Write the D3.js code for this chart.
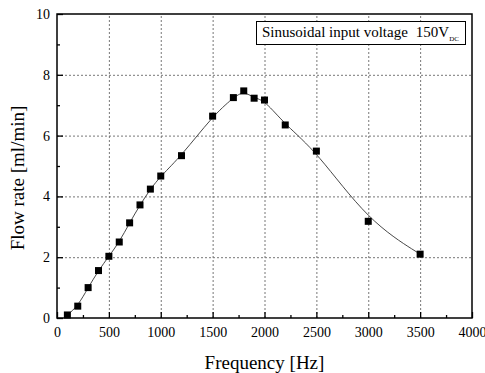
<!DOCTYPE html>
<html><head><meta charset="utf-8">
<script src="https://cdn.jsdelivr.net/npm/d3@7"></script>
<style>body{margin:0;background:#fff}svg{display:block}svg text{font-family:'Liberation Serif',serif !important}</style>
</head><body><div id="c"></div>
<script>
const freq = [100,200,300,400,500,600,700,800,900,1000,1200,1500,1700,1800,1900,2000,2200,2500,3000,3500];
const flow = [0.1,0.39,1.0,1.56,2.03,2.5,3.13,3.72,4.24,4.67,5.34,6.64,7.25,7.47,7.23,7.17,6.35,5.49,3.18,2.1];
const xTicks = [0,500,1000,1500,2000,2500,3000,3500,4000];
const yTicks = [0,2,4,6,8,10];
const xTitle = "Frequency [Hz]";
const yTitle = "Flow rate [ml/min]";
const legendText = "Sinusoidal input voltage";
const legendVal = "150V";
const legendSub = "DC";

const W=485,H=373;
const m={l:57,r:13,t:14,b:55};
const svg=d3.select("#c").append("svg").attr("width",W).attr("height",H);
const x=d3.scaleLinear().domain([0,4000]).range([m.l,W-m.r]);
const y=d3.scaleLinear().domain([0,10]).range([H-m.b,m.t]);
const x0=x(0),x1=x(4000),y0=y(0),y1=y(10);

const g=svg.append("g");
g.selectAll(".gx").data(xTicks.slice(1,-1)).join("line")
 .attr("x1",d=>x(d)+0.5).attr("x2",d=>x(d)+0.5).attr("y1",y0).attr("y2",y1)
 .attr("stroke","#777").attr("stroke-width",1).attr("stroke-dasharray","2,2");
g.selectAll(".gy").data(yTicks.slice(1,-1)).join("line")
 .attr("y1",d=>y(d)+0.5).attr("y2",d=>y(d)+0.5).attr("x1",x0).attr("x2",x1)
 .attr("stroke","#777").attr("stroke-width",1).attr("stroke-dasharray","2,2");

const xa=svg.append("g").attr("transform",`translate(0,${y0})`)
 .call(d3.axisBottom(x).tickValues(xTicks).tickSize(-6).tickPadding(9).tickFormat(d3.format("d")));
const xm=svg.append("g").attr("transform",`translate(0,${y0})`)
 .call(d3.axisBottom(x).tickValues(d3.range(250,4000,500)).tickSize(-3).tickFormat(""));
const ya=svg.append("g").attr("transform",`translate(${x0},0)`)
 .call(d3.axisLeft(y).tickValues(yTicks).tickSize(-6).tickPadding(7).tickFormat(d3.format("d")));
const ym=svg.append("g").attr("transform",`translate(${x0},0)`)
 .call(d3.axisLeft(y).tickValues(d3.range(1,10,2)).tickSize(-3).tickFormat(""));
[xa,xm,ya,ym].forEach(a=>{a.attr("font-family",null).attr("font-size",14);
 a.select(".domain").remove();a.selectAll("line").attr("stroke","#000").attr("stroke-width",1.3);
 a.selectAll("text").attr("fill","#000");});

svg.append("rect").attr("x",x0).attr("y",y1).attr("width",x1-x0).attr("height",y0-y1)
 .attr("fill","none").attr("stroke","#000").attr("stroke-width",1.5);

const pts=freq.map((f,i)=>[f,flow[i]]);
svg.append("path").datum(pts)
 .attr("d",d3.line().x(d=>x(d[0])).y(d=>y(d[1])).curve(d3.curveBasis))
 .attr("fill","none").attr("stroke","#333").attr("stroke-width",0.9);
const s=7;
svg.selectAll(".pt").data(pts).join("rect")
 .attr("x",d=>x(d[0])-s/2).attr("y",d=>y(d[1])-s/2).attr("width",s).attr("height",s).attr("fill","#000");

svg.append("text").attr("x",(x0+x1)/2).attr("y",369).attr("text-anchor","middle")
 .attr("font-size",19).text(xTitle);
svg.append("text").attr("transform",`translate(24,178) rotate(-90)`).attr("text-anchor","middle")
 .attr("font-size",19).text(yTitle);

svg.append("rect").attr("x",256.5).attr("y",21.5).attr("width",209).attr("height",23)
 .attr("fill","#fff").attr("stroke","#000").attr("stroke-width",1);
const lt=svg.append("text").attr("x",262).attr("y",37).attr("font-size",15);
lt.append("tspan").text(legendText);
lt.append("tspan").attr("dx",8).text(legendVal);
lt.append("tspan").attr("dy",4).attr("font-size",7).text(legendSub);
</script></body></html>
